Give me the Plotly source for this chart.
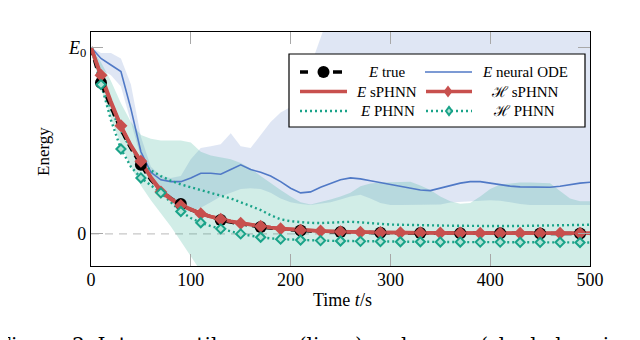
import plotly.graph_objects as go

# time grid (s)
t = list(range(0, 501, 10))

e_true = [1.00, 0.81, 0.68, 0.56, 0.46, 0.37, 0.29, 0.235, 0.19, 0.16,
          0.13, 0.11, 0.09, 0.075, 0.063, 0.053, 0.045, 0.037, 0.031, 0.026,
          0.021, 0.018, 0.015, 0.013, 0.011, 0.010, 0.009, 0.008, 0.007, 0.006,
          0.006, 0.005, 0.005, 0.005, 0.004, 0.004, 0.004, 0.004, 0.003, 0.003,
          0.003, 0.003, 0.003, 0.003, 0.002, 0.002, 0.002, 0.002, 0.002, 0.002,
          0.002]
e_sphnn = [1.00, 0.84, 0.70, 0.575, 0.47, 0.385, 0.305, 0.235, 0.19, 0.155,
           0.13, 0.11, 0.094, 0.08, 0.068, 0.058, 0.049, 0.042, 0.035, 0.029,
           0.025, 0.021, 0.018, 0.016, 0.014, 0.012, 0.011, 0.010, 0.009, 0.008,
           0.008, 0.007, 0.007, 0.006, 0.006, 0.006, 0.005, 0.005, 0.005, 0.005,
           0.004, 0.004, 0.004, 0.004, 0.004, 0.003, 0.003, 0.003, 0.003, 0.003,
           0.003]
h_sphnn = [1.00, 0.85, 0.71, 0.58, 0.475, 0.39, 0.30, 0.225, 0.185, 0.152,
           0.128, 0.108, 0.092, 0.078, 0.067, 0.057, 0.048, 0.041, 0.034, 0.028,
           0.024, 0.020, 0.017, 0.015, 0.013, 0.011, 0.010, 0.009, 0.008, 0.007,
           0.007, 0.006, 0.006, 0.006, 0.005, 0.005, 0.005, 0.005, 0.004, 0.004,
           0.004, 0.004, 0.004, 0.003, 0.003, 0.003, 0.003, 0.003, 0.003, 0.003,
           0.003]
e_node = [1.00, 0.94, 0.905, 0.87, 0.67, 0.44, 0.33, 0.29, 0.28, 0.28,
          0.30, 0.325, 0.325, 0.32, 0.345, 0.37, 0.345, 0.33, 0.31, 0.28,
          0.245, 0.22, 0.225, 0.25, 0.27, 0.29, 0.30, 0.295, 0.285, 0.275,
          0.265, 0.255, 0.245, 0.235, 0.232, 0.245, 0.26, 0.272, 0.28, 0.28,
          0.272, 0.263, 0.256, 0.252, 0.25, 0.25, 0.25, 0.255, 0.265, 0.272,
          0.277]
e_phnn = [1.00, 0.82, 0.67, 0.55, 0.455, 0.385, 0.34, 0.31, 0.285, 0.265,
          0.25, 0.235, 0.22, 0.205, 0.19, 0.17, 0.15, 0.128, 0.10, 0.078,
          0.068, 0.062, 0.059, 0.058, 0.06, 0.064, 0.065, 0.062, 0.057, 0.053,
          0.05, 0.049, 0.047, 0.046, 0.045, 0.045, 0.044, 0.043, 0.042, 0.041,
          0.041, 0.042, 0.042, 0.043, 0.043, 0.044, 0.045, 0.046, 0.047, 0.048,
          0.049]
h_phnn = [1.00, 0.80, 0.61, 0.455, 0.36, 0.30, 0.26, 0.22, 0.17, 0.12,
          0.085, 0.06, 0.042, 0.027, 0.012, 0.0, -0.01, -0.018, -0.024, -0.028,
          -0.031, -0.033, -0.035, -0.036, -0.037, -0.038, -0.039, -0.04, -0.04, -0.041,
          -0.041, -0.042, -0.042, -0.042, -0.043, -0.043, -0.043, -0.043, -0.044, -0.044,
          -0.044, -0.044, -0.044, -0.045, -0.045, -0.045, -0.045, -0.045, -0.045, -0.046,
          -0.046]

# interquartile ranges
node_lo = [1.00, 0.88, 0.85, 0.79, 0.60, 0.41, 0.31, 0.23, 0.17, 0.13,
           0.12, 0.14, 0.17, 0.20, 0.22, 0.24, 0.245, 0.24, 0.22, 0.19,
           0.17, 0.16, 0.155, 0.162, 0.17, 0.185, 0.20, 0.21, 0.19, 0.165,
           0.155, 0.155, 0.155, 0.155, 0.155, 0.158, 0.168, 0.172, 0.175, 0.178,
           0.18, 0.178, 0.17, 0.16, 0.155, 0.155, 0.155, 0.155, 0.155, 0.155,
           0.155]
node_hi = [1.00, 0.97, 0.97, 0.94, 0.80, 0.52, 0.36, 0.31, 0.30, 0.31,
           0.40, 0.46, 0.47, 0.48, 0.54, 0.47, 0.46, 0.53, 0.60, 0.65,
           0.68, 0.78, 0.90, 1.05, 1.20, 1.30, 1.30, 1.30, 1.30, 1.30,
           1.30, 1.30, 1.30, 1.30, 1.30, 1.30, 1.30, 1.30, 1.30, 1.30,
           1.30, 1.30, 1.30, 1.30, 1.30, 1.30, 1.30, 1.30, 1.30, 1.30,
           1.30]
phnn_lo = [1.00, 0.78, 0.62, 0.48, 0.36, 0.26, 0.18, 0.11, 0.04, -0.04,
           -0.12, -0.20, -0.30, -0.30, -0.30, -0.30, -0.30, -0.30, -0.30, -0.30,
           -0.30, -0.30, -0.30, -0.30, -0.30, -0.30, -0.30, -0.30, -0.30, -0.30,
           -0.30, -0.30, -0.30, -0.30, -0.30, -0.30, -0.30, -0.30, -0.30, -0.30,
           -0.30, -0.30, -0.30, -0.30, -0.30, -0.30, -0.30, -0.30, -0.30, -0.30,
           -0.30]
phnn_hi = [1.00, 0.92, 0.82, 0.70, 0.60, 0.53, 0.51, 0.50, 0.50, 0.50,
           0.49, 0.44, 0.42, 0.41, 0.40, 0.38, 0.35, 0.31, 0.27, 0.235,
           0.20, 0.17, 0.158, 0.17, 0.185, 0.20, 0.22, 0.255, 0.27, 0.275,
           0.278, 0.28, 0.28, 0.26, 0.235, 0.20, 0.175, 0.162, 0.165, 0.20,
           0.24, 0.265, 0.272, 0.275, 0.275, 0.275, 0.272, 0.23, 0.19, 0.175,
           0.175]

x_ticks = [0, 100, 200, 300, 400, 500]
y_ticks = [0, 1]
y_ticktext = ["0", "<i>E</i><sub>0</sub>"]

RED = "#c8504e"
BLUE = "#5079c6"
GREEN = "#1aa389"
GREEN_FILL = "#b4e3d6"
FONT = "Liberation Serif"

fig = go.Figure()

# shaded ranges
fig.add_trace(go.Scatter(x=t, y=node_lo, mode="lines", line=dict(width=0), showlegend=False))
fig.add_trace(go.Scatter(x=t, y=node_hi, mode="lines", line=dict(width=0), fill="tonexty",
                         fillcolor="rgba(76,114,196,0.18)", showlegend=False))
fig.add_trace(go.Scatter(x=t, y=phnn_lo, mode="lines", line=dict(width=0), showlegend=False))
fig.add_trace(go.Scatter(x=t, y=phnn_hi, mode="lines", line=dict(width=0), fill="tonexty",
                         fillcolor="rgba(26,163,137,0.2)", showlegend=False))

# lines
fig.add_trace(go.Scatter(x=t, y=e_node, mode="lines", line=dict(color=BLUE, width=1.6)))
fig.add_trace(go.Scatter(x=t, y=e_phnn, mode="lines", line=dict(color=GREEN, width=2.4, dash="2px,3px")))
fig.add_trace(go.Scatter(x=t, y=h_phnn, mode="lines", line=dict(color=GREEN, width=2.4, dash="2px,3px")))
fig.add_trace(go.Scatter(x=t, y=e_true, mode="lines", line=dict(color="black", width=3.5, dash="8px,5px")))
fig.add_trace(go.Scatter(x=t, y=e_sphnn, mode="lines", line=dict(color=RED, width=3.5)))
fig.add_trace(go.Scatter(x=t, y=h_sphnn, mode="lines", line=dict(color=RED, width=3.5)))

# markers
fig.add_trace(go.Scatter(x=t[1::4], y=e_true[1::4], mode="markers",
                         marker=dict(symbol="circle", size=12, color="black")))
fig.add_trace(go.Scatter(x=t[1::2], y=h_sphnn[1::2], mode="markers",
                         marker=dict(symbol="diamond", size=10, color=RED)))
fig.add_trace(go.Scatter(x=t[1::2], y=h_phnn[1::2], mode="markers",
                         marker=dict(symbol="diamond", size=7, color=GREEN_FILL,
                                     line=dict(color=GREEN, width=2))))


# screen pixel -> paper helpers for the hand-made legend and labels
def px(x):
    return (x - 91) / 499


def py(y):
    return (266 - y) / 234


shapes = [
    dict(type="line", xref="x", yref="y", x0=0, x1=500, y0=0, y1=0, layer="below",
         line=dict(color="#c8c8c8", width=1.2, dash="8px,6px")),
    dict(type="rect", xref="paper", yref="paper", x0=px(289), x1=px(585), y0=py(127), y1=py(54),
         fillcolor="white", line=dict(color="black", width=1.2), layer="above"),
]

rows = [72, 91.5, 111]
# col 1 samples
shapes += [
    dict(type="line", xref="paper", yref="paper", x0=px(300), x1=px(308), y0=py(rows[0]), y1=py(rows[0]),
         line=dict(color="black", width=3.5), layer="above"),
    dict(type="line", xref="paper", yref="paper", x0=px(333), x1=px(342), y0=py(rows[0]), y1=py(rows[0]),
         line=dict(color="black", width=3.5), layer="above"),
    dict(type="circle", xref="paper", yref="paper", x0=px(317.5), x1=px(329.5),
         y0=py(rows[0] + 6), y1=py(rows[0] - 6), fillcolor="black", line=dict(width=0), layer="above"),
    dict(type="line", xref="paper", yref="paper", x0=px(300), x1=px(347), y0=py(rows[1]), y1=py(rows[1]),
         line=dict(color=RED, width=3.5), layer="above"),
    dict(type="line", xref="paper", yref="paper", x0=px(300), x1=px(347), y0=py(rows[2]), y1=py(rows[2]),
         line=dict(color=GREEN, width=2.4, dash="2px,3px"), layer="above"),
]
# col 2 samples
shapes += [
    dict(type="line", xref="paper", yref="paper", x0=px(425), x1=px(472), y0=py(rows[0]), y1=py(rows[0]),
         line=dict(color=BLUE, width=1.6), layer="above"),
    dict(type="line", xref="paper", yref="paper", x0=px(426), x1=px(472), y0=py(rows[1]), y1=py(rows[1]),
         line=dict(color=RED, width=3.5), layer="above"),
    dict(type="line", xref="paper", yref="paper", x0=px(426), x1=px(472), y0=py(rows[2]), y1=py(rows[2]),
         line=dict(color=GREEN, width=2.4, dash="2px,3px"), layer="above"),
]


def diamond(cx, cy, hw, hh, fill, line_color, lw):
    path = "M {} {} L {} {} L {} {} L {} {} Z".format(
        px(cx - hw), py(cy), px(cx), py(cy - hh), px(cx + hw), py(cy), px(cx), py(cy + hh))
    return dict(type="path", xref="paper", yref="paper", path=path, fillcolor=fill,
                line=dict(color=line_color, width=lw), layer="above")


shapes.append(diamond(448, rows[1], 4.5, 6, RED, RED, 0))
shapes.append(diamond(449, rows[2], 3, 4, GREEN_FILL, GREEN, 2))

labels = [
    ("<i>E</i> true", 387, rows[0]),
    ("<i>E</i> sPHNN", 386, rows[1]),
    ("<i>E</i> PHNN", 387, rows[2]),
    ("<i>E</i> neural ODE", 525, rows[0]),
    ("ℋ sPHNN", 525, rows[1]),
    ("ℋ PHNN", 524, rows[2]),
]
annotations = [dict(text=s, x=px(x), y=py(y), xref="paper", yref="paper", showarrow=False,
                    xanchor="center", yanchor="middle", font=dict(size=15, color="black", family=FONT))
               for s, x, y in labels]

annotations += [
    dict(text="Energy", x=px(43), y=py(152), xref="paper", yref="paper", showarrow=False,
         xanchor="center", yanchor="middle", textangle=-90,
         font=dict(size=17, color="black", family=FONT)),
    dict(text="Time <i>t</i>/s", x=px(342), y=py(300), xref="paper", yref="paper", showarrow=False,
         xanchor="center", yanchor="middle", font=dict(size=18, color="black", family=FONT)),
    dict(text="Figure 3. Interquartile mean (lines) and range (shaded regions)", x=px(-5), y=py(331),
         xref="paper", yref="paper", showarrow=False, xanchor="left", yanchor="top",
         font=dict(size=20.3, color="black", family="DejaVu Serif")),
]

# the page body adds an 8px offset, so the figure is 632x332 and margins are shifted
fig.update_layout(
    width=632, height=332,
    margin=dict(l=83, r=50, t=24, b=74),
    paper_bgcolor="white", plot_bgcolor="white",
    showlegend=False,
    font=dict(family=FONT, size=18, color="black"),
    xaxis=dict(range=[0, 500], tickvals=x_ticks, ticks="inside", ticklen=12, tickcolor="#a8a8a8",
               tickwidth=1, showline=True, linecolor="black", linewidth=1.2, mirror="ticks",
               showgrid=False, zeroline=False, tickfont=dict(size=18), ticklabelstandoff=-3),
    yaxis=dict(range=[-0.172, 1.082], tickvals=y_ticks, ticktext=y_ticktext, ticks="inside",
               ticklen=12, tickcolor="#a8a8a8", tickwidth=1, showline=True, linecolor="black",
               linewidth=1.2, mirror="ticks", showgrid=False, zeroline=False, tickfont=dict(size=18)),
    shapes=shapes,
    annotations=annotations,
)

fig.write_html("out.html")
